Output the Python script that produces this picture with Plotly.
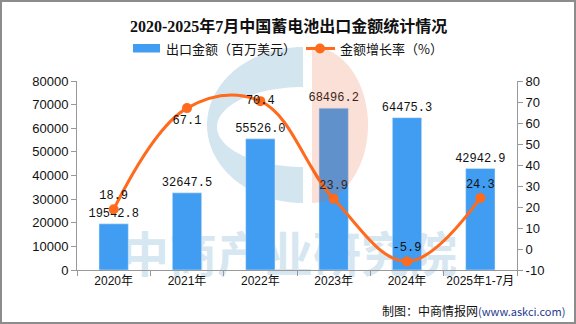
import numpy as np
import plotly.graph_objects as go

categories = ["2020年", "2021年", "2022年", "2023年", "2024年", "2025年1-7月"]
export_value = [19542.8, 32647.5, 55526.0, 68496.2, 64475.3, 42942.9]
growth_rate = [18.9, 67.1, 70.4, 23.9, -5.9, 24.3]
growth_pos = ["top center", "bottom center", "middle center", "top center", "top center", "top center"]
right_ticks = [-10, 0, 10, 20, 30, 40, 50, 60, 70, 80]

BAR = "#409DF2"
LINE = "#FF6A1C"
CJK = "Noto Sans CJK SC"

W, H = 576, 324
L, R, T, B = 77, 517, 81, 270


def px(x):
    return (x - L) / (R - L)


def py(y):
    return (B - y) / (B - T)


def path(points):
    return "M " + " L ".join(f"{px(x):.5f},{py(y):.5f}" for x, y in points) + " Z"


fig = go.Figure()
fig.add_trace(go.Bar(
    x=categories, y=export_value, name="出口金额（百万美元）",
    marker_color=BAR, width=0.4,
    text=[f"{v:.1f}" for v in export_value], textposition="outside",
    constraintext="none",
    textfont=dict(family="Liberation Mono", size=12, color="#111"),
    cliponaxis=False,
))
fig.add_trace(go.Scatter(
    x=categories, y=growth_rate, yaxis="y2", name="金额增长率（%）",
    mode="lines+markers+text",
    line=dict(color=LINE, width=3, shape="spline", smoothing=1.1),
    marker=dict(color=LINE, size=10),
    text=[f"{v:.1f}" for v in growth_rate], textposition=growth_pos,
    textfont=dict(family="Liberation Mono", size=12, color="#111"),
    cliponaxis=False,
))

# logo watermark geometry
t_out = np.linspace(np.pi / 2, 3 * np.pi / 2, 60)
outer = [(303 + 96 * np.cos(a), 125 - 78 * np.sin(a)) for a in t_out]
t_in = np.linspace(3 * np.pi / 2, np.pi / 2, 60)
inner = [(303 + 86 * np.cos(a), 127 - 40 * np.sin(a)) for a in t_in]
c_path = path(outer + inner)
t_p = np.linspace(np.pi / 2, -np.pi / 2, 60)
peach = [(312 + 56 * np.cos(a), 125 - 78 * np.sin(a)) for a in t_p]
p_path = path(peach)

shapes = [
    dict(type="path", xref="paper", yref="paper", path=c_path,
         fillcolor="#d3e5ef", line=dict(width=0), layer="below"),
    dict(type="rect", xref="paper", yref="paper",
         x0=px(112), x1=px(466), y0=py(287), y1=py(230),
         line=dict(width=0), fillcolor="rgba(0,0,0,0)", layer="below",
         label=dict(text="中商产业研究院", textposition="middle center",
                    font=dict(family=CJK, size=48, color="#d6e7f1", weight="bold"))),
    dict(type="path", xref="paper", yref="paper", path=p_path,
         fillcolor="rgba(230,100,50,0.2)", line=dict(width=0), layer="above"),
    # legend marks
    dict(type="rect", xref="paper", yref="paper",
         x0=px(133), x1=px(160), y0=py(52.5), y1=py(44), fillcolor=BAR, line=dict(width=0)),
    dict(type="line", xref="paper", yref="paper",
         x0=px(306), x1=px(335), y0=py(48.5), y1=py(48.5), line=dict(color=LINE, width=3)),
    dict(type="circle", xref="paper", yref="paper",
         x0=px(315), x1=px(325), y0=py(53.5), y1=py(43.5), fillcolor=LINE, line=dict(width=0)),
    # outer border
    dict(type="rect", xref="paper", yref="paper",
         x0=px(1), x1=px(575), y0=py(323), y1=py(1),
         line=dict(color="#8c8c8c", width=2), fillcolor="rgba(0,0,0,0)"),
]

annotations = [
    dict(xref="paper", yref="paper", x=px(288), y=py(26), showarrow=False,
         text="<b>2020-2025年7月中国蓄电池出口金额统计情况</b>",
         font=dict(family="Liberation Serif, " + CJK, size=16, color="#111"),
         xanchor="center", yanchor="middle"),
    dict(xref="paper", yref="paper", x=px(164), y=py(48.5), showarrow=False,
         text="出口金额（百万美元）", font=dict(family=CJK, size=13, color="#111"),
         xanchor="left", yanchor="middle"),
    dict(xref="paper", yref="paper", x=px(338), y=py(48.5), showarrow=False,
         text="金额增长率（%）", font=dict(family=CJK, size=13, color="#111"),
         xanchor="left", yanchor="middle"),
    dict(xref="paper", yref="paper", x=px(567), y=py(310), showarrow=False,
         text="制图：中商情报网<span style='color:#1f3a8c;font-size:11px'>(www.askci.com)</span>",
         font=dict(family=CJK, size=12, color="#111"),
         xanchor="right", yanchor="middle"),
]

axis_font = dict(family="Liberation Sans", size=13, color="#111")
fig.update_layout(
    width=W, height=H,
    margin=dict(l=L, r=W - R, t=T, b=H - B, pad=0),
    paper_bgcolor="white", plot_bgcolor="white",
    showlegend=False,
    bargap=0.6,
    shapes=shapes, annotations=annotations,
    xaxis=dict(type="category", showline=True, linecolor="#999", linewidth=1,
               ticks="outside", tickson="boundaries", ticklen=5, tickcolor="#999",
               tickangle=0,
               tickfont=dict(family="Liberation Sans, " + CJK, size=12, color="#111"),
               showgrid=False),
    yaxis=dict(range=[0, 80000], dtick=10000, showline=True, linecolor="#999",
               ticks="outside", ticklen=5, tickcolor="#999", showgrid=False,
               zeroline=False, tickfont=axis_font, tickformat="d"),
    yaxis2=dict(range=[-10, 80], overlaying="y", side="right", showline=True,
                linecolor="#999", ticks="outside", ticklen=5, tickcolor="#999",
                showgrid=False, zeroline=False, tickfont=axis_font,
                tickvals=right_ticks, ticktext=[str(v) for v in right_ticks]),
)

fig.write_html("out.html")
